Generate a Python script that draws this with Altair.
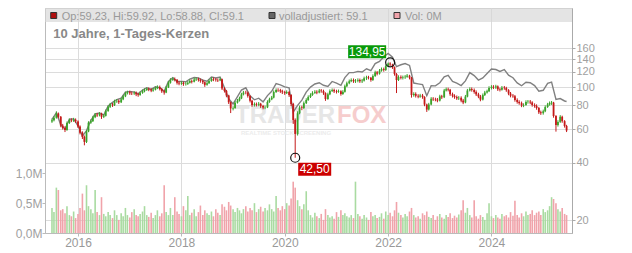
import altair as alt
import pandas as pd

# ---------------- data ----------------
dates = pd.date_range("2015-07-01", periods=240, freq="SMS").strftime("%Y-%m-%d").tolist()

close = [
    66.9, 69.0, 72.6, 69.8, 62.7, 61.0, 59.5, 64.7, 67.0, 66.7, 67.3, 66.0,
    62.0, 57.6, 54.7, 51.5, 58.4, 65.0, 66.2, 69.4, 71.6, 71.0, 72.4, 69.8,
    70.6, 74.9, 78.7, 80.9, 80.2, 84.2, 84.7, 83.2, 86.2, 89.4, 92.7, 93.9,
    92.8, 92.7, 93.3, 91.6, 90.8, 93.2, 95.0, 96.5, 97.7, 96.9, 95.8, 96.9,
    98.8, 100.0, 97.7, 95.0, 93.6, 99.5, 105.3, 109.2, 110.3, 109.2, 105.3, 104.4,
    105.1, 103.7, 104.0, 105.3, 107.5, 106.6, 109.5, 110.0, 108.9, 107.7, 106.0, 102.7,
    104.7, 107.5, 110.2, 109.6, 108.9, 108.5, 110.0, 98.3, 95.5, 90.3, 83.2, 77.2,
    77.6, 82.8, 84.8, 87.2, 91.5, 93.6, 93.5, 89.7, 84.8, 80.5, 81.3, 80.8,
    81.7, 79.4, 78.1, 78.2, 83.5, 86.2, 88.0, 94.2, 96.5, 96.3, 95.0, 93.9,
    92.9, 94.2, 90.8, 81.5, 67.1, 56.7, 72.8, 78.1, 77.6, 82.3, 85.5, 88.6,
    90.8, 93.2, 94.4, 93.6, 95.8, 95.3, 92.9, 86.5, 91.6, 95.3, 96.4, 95.0,
    94.4, 95.1, 91.9, 94.4, 101.0, 104.7, 107.3, 108.9, 107.3, 108.0, 108.9, 107.3,
    108.1, 111.2, 112.4, 111.9, 108.9, 114.3, 119.5, 117.6, 121.9, 124.2, 123.0, 128.8,
    133.0, 131.5, 127.1, 117.2, 108.9, 113.0, 111.9, 112.6, 113.3, 114.8, 111.9, 90.8,
    92.0, 89.9, 89.1, 90.3, 88.6, 80.9, 76.2, 81.0, 86.8, 86.2, 85.9, 84.9,
    89.3, 88.4, 95.9, 97.4, 96.8, 91.7, 89.9, 88.6, 87.3, 87.8, 84.9, 83.0,
    89.1, 95.9, 97.6, 96.5, 94.2, 91.5, 89.2, 85.9, 90.7, 93.6, 95.0, 99.0,
    100.3, 99.6, 100.8, 97.3, 96.7, 99.3, 98.8, 96.3, 92.4, 90.1, 89.6, 85.5,
    83.5, 82.3, 80.0, 80.5, 83.5, 83.8, 83.0, 80.5, 79.5, 77.6, 73.7, 72.9,
    74.6, 78.5, 81.0, 82.3, 82.8, 70.4, 63.2, 65.6, 69.8, 66.2, 62.4, 59.1,
]

open_ = [
    66.0, 66.9, 69.0, 72.6, 69.8, 62.7, 61.0, 59.5, 64.7, 67.0, 66.7, 67.3,
    66.0, 62.0, 57.6, 54.7, 51.5, 58.4, 65.0, 66.2, 69.4, 71.6, 71.0, 72.4,
    69.8, 70.6, 74.9, 78.7, 80.9, 80.2, 84.2, 84.7, 83.2, 86.2, 89.4, 92.7,
    93.9, 92.8, 92.7, 93.3, 91.6, 90.8, 93.2, 95.0, 96.5, 97.7, 96.9, 95.8,
    96.9, 98.8, 100.0, 97.7, 95.0, 93.6, 99.5, 105.3, 109.2, 110.3, 109.2, 105.3,
    104.4, 105.1, 103.7, 104.0, 105.3, 107.5, 106.6, 109.5, 110.0, 108.9, 107.7, 106.0,
    102.7, 104.7, 107.5, 110.2, 109.6, 108.9, 108.5, 110.0, 98.3, 95.5, 90.3, 83.2,
    77.2, 77.6, 82.8, 84.8, 87.2, 91.5, 93.6, 93.5, 89.7, 84.8, 80.5, 81.3,
    80.8, 81.7, 79.4, 78.1, 78.2, 83.5, 86.2, 88.0, 94.2, 96.5, 96.3, 95.0,
    93.9, 92.9, 94.2, 90.8, 81.5, 67.1, 56.7, 72.8, 78.1, 77.6, 82.3, 85.5,
    88.6, 90.8, 93.2, 94.4, 93.6, 95.8, 95.3, 92.9, 86.5, 91.6, 95.3, 96.4,
    95.0, 94.4, 95.1, 91.9, 94.4, 101.0, 104.7, 107.3, 108.9, 107.3, 108.0, 108.9,
    107.3, 108.1, 111.2, 112.4, 111.9, 108.9, 114.3, 119.5, 117.6, 121.9, 124.2, 123.0,
    128.8, 133.0, 131.5, 127.1, 117.2, 108.9, 113.0, 111.9, 112.6, 113.3, 114.8, 111.9,
    90.8, 92.0, 89.9, 89.1, 90.3, 88.6, 80.9, 76.2, 81.0, 86.8, 86.2, 85.9,
    84.9, 89.3, 88.4, 95.9, 97.4, 96.8, 91.7, 89.9, 88.6, 87.3, 87.8, 84.9,
    83.0, 89.1, 95.9, 97.6, 96.5, 94.2, 91.5, 89.2, 85.9, 90.7, 93.6, 95.0,
    99.0, 100.3, 99.6, 100.8, 97.3, 96.7, 99.3, 98.8, 96.3, 92.4, 90.1, 89.6,
    85.5, 83.5, 82.3, 80.0, 80.5, 83.5, 83.8, 83.0, 80.5, 79.5, 77.6, 73.7,
    72.9, 74.6, 78.5, 81.0, 82.3, 82.8, 70.4, 63.2, 65.6, 69.8, 66.2, 62.4,
]

high = [
    68.2, 70.3, 74.5, 73.5, 70.4, 64.0, 62.2, 65.9, 68.3, 68.5, 68.9, 68.4,
    66.8, 62.9, 58.5, 55.6, 59.4, 66.1, 67.6, 70.6, 73.0, 73.1, 73.8, 73.3,
    72.1, 76.2, 80.1, 82.5, 82.4, 85.8, 86.5, 86.0, 87.9, 91.0, 94.5, 95.7,
    95.6, 94.6, 95.1, 94.8, 93.2, 94.9, 96.9, 98.4, 99.6, 99.5, 98.6, 98.8,
    100.7, 102.1, 101.8, 98.9, 96.6, 101.4, 107.4, 111.4, 112.6, 112.3, 110.1, 107.3,
    107.3, 106.9, 106.2, 107.5, 109.8, 109.5, 111.8, 112.4, 111.9, 110.8, 109.5, 107.1,
    106.8, 109.8, 112.6, 112.4, 111.7, 110.9, 112.3, 110.8, 99.9, 96.6, 91.1, 84.0,
    79.3, 84.4, 86.6, 89.0, 93.3, 95.5, 95.6, 94.6, 90.6, 85.7, 83.0, 82.9,
    83.4, 82.6, 80.6, 79.9, 85.2, 87.9, 89.8, 96.0, 98.4, 98.5, 97.9, 96.8,
    95.6, 96.1, 95.3, 91.8, 82.6, 68.4, 74.6, 79.9, 79.8, 84.0, 87.3, 90.4,
    92.7, 95.1, 96.3, 96.2, 97.7, 97.6, 96.9, 93.8, 93.4, 97.2, 98.3, 98.1,
    96.8, 97.0, 96.2, 96.3, 103.0, 106.8, 109.5, 111.1, 110.9, 110.2, 111.1, 110.8,
    110.3, 113.5, 114.7, 114.6, 113.0, 116.6, 121.9, 121.5, 124.4, 126.7, 126.6, 131.4,
    134.6, 134.95, 132.6, 128.3, 118.4, 115.3, 115.2, 114.9, 115.6, 117.1, 116.0, 113.0,
    93.9, 93.8, 91.7, 92.1, 92.0, 89.5, 81.8, 82.6, 88.5, 88.5, 87.9, 87.6,
    91.1, 91.0, 97.8, 99.4, 99.3, 97.8, 93.5, 91.6, 90.3, 89.6, 89.4, 86.6,
    90.9, 97.8, 99.6, 99.5, 98.3, 96.0, 93.3, 90.9, 92.5, 95.5, 96.9, 101.0,
    102.3, 102.3, 102.8, 102.0, 99.2, 101.3, 101.3, 100.3, 97.5, 94.2, 91.9, 90.8,
    87.2, 85.2, 83.9, 82.1, 85.2, 85.5, 85.5, 84.2, 82.1, 81.1, 78.6, 75.2,
    76.1, 80.1, 82.6, 84.0, 84.5, 83.6, 71.2, 66.9, 71.2, 70.7, 67.0, 63.3,
]

low = [
    64.8, 66.0, 68.2, 68.5, 61.5, 59.8, 58.0, 58.9, 64.0, 65.4, 65.6, 64.8,
    60.9, 56.4, 53.3, 49.4, 50.8, 57.9, 64.1, 65.5, 68.6, 69.7, 70.1, 68.0,
    68.7, 70.0, 74.1, 77.6, 78.6, 79.5, 82.6, 81.5, 82.4, 85.3, 88.5, 91.4,
    91.0, 90.8, 91.0, 89.6, 88.9, 90.0, 92.2, 93.8, 95.4, 95.1, 94.0, 94.5,
    96.0, 97.5, 96.0, 93.2, 91.2, 92.9, 98.8, 104.2, 107.8, 107.1, 103.1, 102.2,
    102.7, 101.5, 101.8, 102.6, 104.4, 104.5, 105.8, 107.6, 106.8, 105.4, 103.7, 100.3,
    101.7, 103.9, 106.6, 107.4, 106.8, 106.3, 107.4, 96.5, 93.6, 88.4, 81.5, 73.0,
    75.4, 76.8, 81.9, 83.9, 86.4, 90.4, 91.6, 88.0, 83.0, 78.8, 79.0, 79.1,
    79.3, 77.7, 76.4, 76.5, 77.5, 82.6, 85.3, 87.2, 93.1, 94.3, 93.2, 91.9,
    91.0, 91.9, 88.8, 79.5, 64.0, 42.5, 55.6, 71.9, 75.6, 76.7, 81.4, 84.6,
    87.6, 89.9, 92.0, 91.7, 92.7, 93.4, 91.0, 84.6, 85.7, 90.6, 94.2, 93.1,
    92.5, 93.3, 90.1, 91.0, 93.5, 99.9, 103.5, 106.1, 105.2, 105.1, 105.9, 105.2,
    105.0, 106.9, 109.0, 109.7, 106.7, 107.7, 113.0, 115.2, 116.3, 120.5, 120.5, 121.6,
    127.3, 129.0, 124.6, 114.8, 93.0, 107.6, 109.7, 109.6, 110.4, 111.9, 109.7, 88.0,
    89.0, 88.1, 87.3, 87.8, 86.8, 79.3, 74.0, 75.3, 80.2, 84.5, 84.2, 83.2,
    84.0, 86.6, 87.5, 94.8, 94.9, 89.9, 88.1, 86.8, 85.6, 85.5, 83.2, 81.3,
    82.2, 88.3, 94.8, 94.6, 92.3, 89.7, 87.4, 84.2, 85.0, 89.8, 92.4, 94.1,
    97.1, 97.6, 97.8, 95.4, 94.8, 95.8, 96.8, 94.4, 90.6, 88.3, 87.8, 83.8,
    81.8, 80.7, 78.4, 78.4, 79.7, 81.8, 81.3, 78.9, 77.9, 76.0, 72.2, 71.4,
    71.6, 73.8, 77.7, 79.8, 80.6, 69.0, 58.3, 62.0, 64.8, 64.9, 61.2, 58.0,
]

# daily volume in millions
vol = [
    0.42, 0.35, 0.76, 0.72, 0.38, 0.40, 0.33, 0.45, 0.30, 0.28, 0.36, 0.25, 0.32, 0.42, 0.66, 0.38, 0.80, 0.45, 0.40, 0.33, 0.72, 0.35, 0.30, 0.60,
    0.32, 0.28, 0.35, 0.30, 0.25, 0.38, 0.30, 0.22, 0.33, 0.28, 0.42, 0.30, 0.26, 0.35, 0.40, 0.30, 0.28, 0.32, 0.36, 0.45, 0.30, 0.27, 0.34, 0.25,
    0.30, 0.38, 0.28, 0.33, 0.80, 0.35, 0.30, 0.42, 0.30, 0.60, 0.36, 0.32, 0.28, 0.45, 0.38, 0.62, 0.30, 0.34, 0.40, 0.28, 0.35, 0.46, 0.30, 0.38,
    0.33, 0.30, 0.36, 0.28, 0.40, 0.34, 0.30, 0.48, 0.44, 0.38, 0.52, 0.46, 0.40, 0.35, 0.42, 0.38, 0.33, 0.40, 0.45, 0.36, 0.42, 0.38, 0.50, 0.35,
    0.40, 0.44, 0.36, 0.42, 0.38, 0.48, 0.40, 0.36, 0.62, 0.42, 0.38, 0.45, 0.40, 0.50, 0.46, 0.58, 0.86, 0.76, 0.55, 0.45, 0.40, 0.48, 0.70, 0.38,
    0.30, 0.26, 0.34, 0.28, 0.25, 0.32, 0.22, 0.40, 0.30, 0.26, 0.28, 0.24, 0.35, 0.27, 0.38, 0.30, 0.33, 0.28, 0.26, 0.30, 0.25, 0.86, 0.32, 0.28,
    0.24, 0.30, 0.26, 0.22, 0.35, 0.28, 0.30, 0.25, 0.27, 0.33, 0.24, 0.36, 0.30, 0.34, 0.28, 0.38, 0.52, 0.34, 0.30, 0.26, 0.32, 0.28, 0.36, 0.42,
    0.30, 0.26, 0.28, 0.24, 0.33, 0.30, 0.36, 0.27, 0.25, 0.30, 0.22, 0.28, 0.32, 0.26, 0.24, 0.30, 0.27, 0.33, 0.25, 0.29, 0.26, 0.31, 0.38, 0.55,
    0.34, 0.42, 0.30, 0.26, 0.55, 0.28, 0.24, 0.30, 0.27, 0.22, 0.33, 0.50, 0.28, 0.25, 0.30, 0.26, 0.24, 0.32, 0.28, 0.30, 0.26, 0.35, 0.29, 0.54,
    0.30, 0.26, 0.33, 0.28, 0.36, 0.30, 0.32, 0.38, 0.30, 0.34, 0.36, 0.30, 0.40, 0.35, 0.38, 0.45, 0.60, 0.57, 0.50, 0.40, 0.36, 0.42, 0.32, 0.30,
]

# adjusted ("volladjustiert") line, monthly samples + last point
adj = [
    67.6, 73.3, 63.3, 60.1, 67.7, 68.0, 62.6, 55.2, 59.0, 66.9, 72.3, 73.1,
    71.3, 79.5, 83.1, 86.0, 87.5, 94.1, 94.9, 94.1, 92.2, 96.4, 99.2, 97.2,
    100.3, 99.2, 95.0, 106.9, 112.0, 106.9, 106.9, 106.6, 110.2, 112.2, 111.6, 108.7,
    107.3, 113.0, 111.6, 112.8, 99.3, 86.9, 81.5, 89.0, 96.5, 99.1, 89.9, 85.7,
    87.4, 83.6, 90.2, 95.0, 104.2, 102.6, 100.3, 99.0, 73.8, 80.1, 85.4, 94.1,
    99.9, 103.8, 105.4, 102.2, 100.8, 107.0, 104.8, 102.0, 112.1, 119.1, 119.1, 120.9,
    120.0, 124.8, 122.0, 132.8, 136.5, 144.2, 150.3, 143.6, 128.0, 131.0, 133.0, 130.0,
    105.0, 104.0, 103.0, 90.0, 101.6, 101.4, 105.4, 113.2, 115.2, 107.0, 104.8, 101.9,
    107.8, 119.1, 114.9, 108.8, 111.6, 117.8, 124.4, 123.6, 120.9, 123.5, 115.5, 111.9,
    105.2, 101.6, 106.0, 105.4, 101.8, 95.1, 96.2, 104.5, 106.2, 86.0, 87.0, 84.5,
    84.0,
]
adj_dates = dates[::2] + [dates[-1]]

ext_dates = [dates[157], dates[113]]
ext_prices = [134.95, 42.50]
ext_labels = ["134,95", "42,50"]
ext_kind = ["hi", "lo"]

year_ticks = [2016, 2018, 2020, 2022, 2024]
price_ticks = [20, 40, 60, 80, 100, 120, 140, 160]
vol_ticks = [0, 0.5, 1.0]

# ---------------- tables ----------------
df = pd.DataFrame({"date": dates, "open": open_, "high": high, "low": low,
                   "close": close, "vol": vol})
adf = pd.DataFrame({"date": adj_dates, "adj": adj})
ext = pd.DataFrame({"date": ext_dates, "price": ext_prices,
                    "label": ext_labels, "kind": ext_kind})
one = pd.DataFrame({"a": [0]})

FONT = "Liberation Sans, Arial, Helvetica, sans-serif"
W, H = 527, 225

xscale = alt.Scale(domain=[alt.DateTime(year=2015, month=6, date=17),
                           alt.DateTime(year=2025, month=6, date=18)])
xaxis = alt.Axis(values=[alt.DateTime(year=y, month=1, date=1) for y in year_ticks],
                 format="%Y", grid=True, gridColor="#dcdcdc", tickSize=3,
                 labelPadding=1, labelFontSize=12, labelColor="#999999",
                 domainColor="#bbbbbb", tickColor="#bbbbbb", title=None)
X = alt.X("date:T", scale=xscale, axis=xaxis)

pscale = alt.Scale(type="log", domain=[17.09, 260.4], nice=False)
vscale = alt.Scale(domain=[0, 3.77], nice=False)

paxis = alt.Axis(orient="right", values=price_ticks, format="d", grid=True,
                 gridColor="#dcdcdc", tickSize=3, labelPadding=1,
                 labelFontSize=11, labelColor="#a0a0a0", domainColor="#aaaaaa",
                 tickColor="#aaaaaa", title=None, labelOverlap=False,
                 labelBound=False)
vaxis = alt.Axis(orient="left", values=vol_ticks, grid=False, tickSize=3,
                 labelPadding=0, labelFontSize=12, labelColor="#a0a0a0",
                 domainColor="#bbbbbb", tickColor="#bbbbbb", title=None,
                 labelOverlap=False,
                 labelExpr="replace(format(datum.value, '.1f'), '.', ',') + 'M'")

up = "datum.close >= datum.open"
candle_color = alt.condition(up, alt.value("#3aa32a"), alt.value("#c41a1a"))
vol_color = alt.condition(up, alt.value("#a9dba1"), alt.value("#f0a3aa"))


def txt(t, x, y, size=11, color="#999999", weight="normal"):
    return alt.Chart(one).mark_text(text=t, align="left", baseline="alphabetic",
                                    fontSize=size, color=color, fontWeight=weight,
                                    font=FONT).encode(x=alt.value(x), y=alt.value(y))


def sq(x, y, fill):
    return alt.Chart(one).mark_point(shape="square", filled=True, size=36,
                                     fill=fill, stroke="#333333", strokeWidth=1,
                                     opacity=1).encode(x=alt.value(x), y=alt.value(y))


band = alt.Chart(one).mark_rect(fill="#d6d6d6", opacity=0.65).encode(
    x=alt.value(0), x2=alt.value(W), y=alt.value(0), y2=alt.value(14))

wm1 = txt("TRADER", 190, 115, size=24, color="#e6e6e6", weight="bold")
wm2 = txt("FOX", 292, 115, size=24, color="#f6cdcd", weight="bold")
wm3 = txt("REALTIME STOCK SCREENING", 196, 127, size=6, color="#ececec", weight="bold")

volume = alt.Chart(df).mark_bar(width=1.6, clip=True).encode(
    x=X, y=alt.Y("vol:Q", scale=vscale, axis=vaxis), color=vol_color)

adjline = alt.Chart(adf).mark_line(color="#808080", strokeWidth=1.4, clip=True).encode(
    x=X, y=alt.Y("adj:Q", scale=pscale, axis=None))

wick = alt.Chart(df).mark_rule(strokeWidth=1, clip=True).encode(
    x=X, y=alt.Y("low:Q", scale=pscale, axis=paxis), y2="high:Q", color=candle_color)

body = alt.Chart(df).mark_bar(width=1.8, clip=True).encode(
    x=X, y=alt.Y("open:Q", scale=pscale, axis=None), y2="close:Q", color=candle_color)

circles = alt.Chart(ext).mark_point(shape="circle", size=81, filled=False,
                                    color="#111111", strokeWidth=1.2, opacity=1).encode(
    x=X, y=alt.Y("price:Q", scale=pscale, axis=None))

hi_box = alt.Chart(ext).transform_filter("datum.kind == 'hi'").mark_point(
    shape="M-42,-17L-4,-17L-4,-4L-42,-4Z", size=4, filled=True,
    fill="#0a9a0a", strokeWidth=0, opacity=1).encode(
    x=X, y=alt.Y("price:Q", scale=pscale, axis=None))
hi_txt = alt.Chart(ext).transform_filter("datum.kind == 'hi'").mark_text(
    dx=-23, dy=-10.5, color="white", fontSize=12, font=FONT, align="center",
    baseline="middle").encode(
    x=X, y=alt.Y("price:Q", scale=pscale, axis=None), text="label:N")

lo_box = alt.Chart(ext).transform_filter("datum.kind == 'lo'").mark_point(
    shape="M3,5L36,5L36,18L3,18Z", size=4, filled=True,
    fill="#cc0000", strokeWidth=0, opacity=1).encode(
    x=X, y=alt.Y("price:Q", scale=pscale, axis=None))
lo_txt = alt.Chart(ext).transform_filter("datum.kind == 'lo'").mark_text(
    dx=19.5, dy=11.5, color="white", fontSize=12, font=FONT, align="center",
    baseline="middle").encode(
    x=X, y=alt.Y("price:Q", scale=pscale, axis=None), text="label:N")

leg = [
    sq(8.7, 7.5, "#b01010"), txt("Op:59.23, Hi:59.92, Lo:58.88, Cl:59.1", 16.7, 12),
    sq(227, 7.5, "#666666"), txt("volladjustiert: 59.1", 234, 12),
    sq(352, 7.5, "#f0a3aa"), txt("Vol: 0M", 360, 12),
    txt("10 Jahre, 1-Tages-Kerzen", 8.3, 29.6, size=13, color="#888888", weight="bold"),
]

chart = alt.layer(
    band, wm1, wm2, wm3, volume, adjline, wick, body, circles,
    hi_box, hi_txt, lo_box, lo_txt, *leg
).resolve_scale(y="independent").properties(
    width=W, height=H,
    padding={"left": 45, "top": 8, "right": 60, "bottom": 20},
    autosize=alt.AutoSizeParams(type="none"),
).configure(font=FONT).configure_view(stroke="#cccccc")

chart.save("out.html", embed_options={"renderer": "svg", "actions": False})
